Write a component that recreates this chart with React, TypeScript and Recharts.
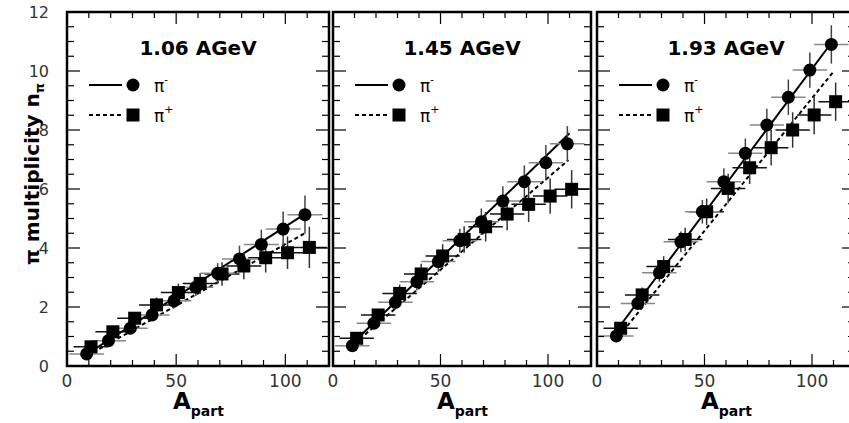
import { ComposedChart, Scatter, Line, XAxis, YAxis, ErrorBar, Legend, ReferenceArea } from "recharts";

// participant numbers (pi- circles, pi+ squares sit a little to the right)
const xMinus = [9, 19, 29, 39, 49, 59, 69, 79, 89, 99, 109];
const xPlus = [11, 21, 31, 41, 51, 61, 71, 81, 91, 101, 111];
const xErr = [8, 8, 8, 8, 8, 8, 8, 8, 8, 8, 8];

const minus106 = [0.41, 0.86, 1.28, 1.73, 2.21, 2.67, 3.14, 3.63, 4.12, 4.64, 5.13];
const plus106 = [0.65, 1.16, 1.62, 2.07, 2.49, 2.8, 3.12, 3.39, 3.67, 3.84, 4.02];
const minusErr106 = [0.05, 0.1, 0.15, 0.2, 0.25, 0.3, 0.35, 0.45, 0.5, 0.6, 0.65];
const plusErr106 = [0.08, 0.15, 0.2, 0.25, 0.3, 0.35, 0.4, 0.45, 0.5, 0.55, 0.7];

const minus145 = [0.69, 1.45, 2.16, 2.86, 3.54, 4.25, 4.89, 5.59, 6.25, 6.89, 7.53];
const plus145 = [0.94, 1.73, 2.46, 3.12, 3.73, 4.29, 4.72, 5.15, 5.48, 5.76, 5.99];
const minusErr145 = [0.08, 0.15, 0.25, 0.3, 0.35, 0.4, 0.45, 0.5, 0.55, 0.6, 0.6];
const plusErr145 = [0.1, 0.2, 0.3, 0.35, 0.4, 0.45, 0.5, 0.55, 0.6, 0.6, 0.65];

const minus193 = [1.02, 2.12, 3.16, 4.21, 5.23, 6.25, 7.21, 8.17, 9.11, 10.03, 10.9];
const plus193 = [1.28, 2.41, 3.37, 4.29, 5.23, 6.02, 6.72, 7.4, 8.0, 8.51, 8.96];
const minusErr193 = [0.1, 0.2, 0.3, 0.35, 0.4, 0.45, 0.5, 0.55, 0.6, 0.6, 0.65];
const plusErr193 = [0.15, 0.25, 0.35, 0.4, 0.45, 0.5, 0.55, 0.6, 0.6, 0.65, 0.65];

// linear fits: [x start, x end] and [y start, y end]
const fitMinus106 = { x: [8, 108.5], y: [0.35, 5.13] };
const fitPlus106 = { x: [12, 109.6], y: [0.46, 4.53] };
const fitMinus145 = { x: [7, 110], y: [0.62, 7.89] };
const fitPlus145 = { x: [10, 109.5], y: [0.76, 6.98] };
const fitMinus193 = { x: [7, 109.5], y: [1.0, 11.0] };
const fitPlus193 = { x: [12, 109.7], y: [1.17, 9.95] };

const xTicks = [0, 10, 20, 30, 40, 50, 60, 70, 80, 90, 100, 110, 120];
const yTicks = [0, 0.5, 1, 1.5, 2, 2.5, 3, 3.5, 4, 4.5, 5, 5.5, 6, 6.5, 7, 7.5, 8, 8.5, 9, 9.5, 10, 10.5, 11, 11.5, 12];
const xLabelTicks = [0, 50, 100];
const yLabelTicks = [0, 2, 4, 6, 8, 10, 12];

const FONT = "'DejaVu Sans', 'Liberation Sans', Arial, sans-serif";
const PLOT_H = 354;
const TOP = 12;
const AXIS_W = 67;

const toPoints = (xs: number[], ys: number[], ex: number[], ey: number[]) =>
  xs.map((x, i) => ({ x, y: ys[i], ex: ex[i], ey: ey[i] }));
const toLine = (f: { x: number[]; y: number[] }) => f.x.map((x, i) => ({ x, y: f.y[i] }));

const panels = [
  {
    title: "1.06 AGeV", left: 67, width: 262, labels: true,
    minus: toPoints(xMinus, minus106, xErr, minusErr106), plus: toPoints(xPlus, plus106, xErr, plusErr106),
    fitM: toLine(fitMinus106), fitP: toLine(fitPlus106),
  },
  {
    title: "1.45 AGeV", left: 333, width: 258, labels: false,
    minus: toPoints(xMinus, minus145, xErr, minusErr145), plus: toPoints(xPlus, plus145, xErr, plusErr145),
    fitM: toLine(fitMinus145), fitP: toLine(fitPlus145),
  },
  {
    title: "1.93 AGeV", left: 597, width: 258, labels: false,
    minus: toPoints(xMinus, minus193, xErr, minusErr193), plus: toPoints(xPlus, plus193, xErr, plusErr193),
    fitM: toLine(fitMinus193), fitP: toLine(fitPlus193),
  },
];

function XTick(props: any) {
  const { x, y, payload } = props;
  const v = payload.value;
  const major = xLabelTicks.includes(v);
  const len = major ? 12 : 6;
  return (
    <g>
      <line x1={x} x2={x} y1={y} y2={y - len} stroke="#000" strokeWidth={1.2} />
      <line x1={x} x2={x} y1={y - PLOT_H} y2={y - PLOT_H + len} stroke="#000" strokeWidth={1.2} />
      {major && (
        <text x={x} y={y + 21} textAnchor="middle" fontFamily={FONT} fontSize={17} fill="#333">
          {v}
        </text>
      )}
    </g>
  );
}

function makeYTick(plotW: number, labels: boolean) {
  return (props: any) => {
    const { x, y, payload } = props;
    const v = payload.value;
    const major = yLabelTicks.includes(v);
    const len = major ? 13 : 7;
    return (
      <g>
        <line x1={x} x2={x + len} y1={y} y2={y} stroke="#000" strokeWidth={1.2} />
        <line x1={x + plotW} x2={x + plotW - len} y1={y} y2={y} stroke="#000" strokeWidth={1.2} />
        {labels && major && (
          <text x={x - 18} y={y + 6} textAnchor="end" fontFamily={FONT} fontSize={16} fill="#333">
            {v}
          </text>
        )}
      </g>
    );
  };
}

function XTitle(props: any) {
  const { viewBox } = props;
  const cx = viewBox.x + viewBox.width / 2;
  return (
    <text x={cx - 25} y={409} fontFamily={FONT} fontWeight="bold" fill="#000">
      <tspan fontSize={23}>A</tspan>
      <tspan fontSize={14} dy={7}>part</tspan>
    </text>
  );
}

function YTitle() {
  return (
    <text transform="translate(39, 174) rotate(-90)" textAnchor="middle" fontFamily={FONT} fontWeight="bold" fontSize={20} fill="#000">
      π multiplicity n
      <tspan fontSize={13} dy={5}>π</tspan>
    </text>
  );
}

function PanelKey({ title, width }: { title: string; width: number }) {
  return (
    <svg width={width} height={120} style={{ display: "block", overflow: "visible" }}>
      <text x={width / 2} y={43} textAnchor="middle" fontFamily={FONT} fontWeight="bold" fontSize={20} fill="#000">
        {title}
      </text>
      <line x1={22} x2={55} y1={73} y2={73} stroke="#000" strokeWidth={2} />
      <circle cx={66} cy={73} r={6.5} fill="#000" />
      <text x={87} y={80} fontFamily={FONT} fontSize={17} fill="#000">
        π<tspan fontSize={10} dy={-9}>-</tspan>
      </text>
      <line x1={22} x2={55} y1={103} y2={103} stroke="#000" strokeWidth={2} strokeDasharray="4 3" />
      <rect x={59.5} y={96.5} width={13} height={13} fill="#000" />
      <text x={87} y={110} fontFamily={FONT} fontSize={17} fill="#000">
        π<tspan fontSize={11} dy={-9}>+</tspan>
      </text>
    </svg>
  );
}

const circleShape = (p: any) => <circle cx={p.cx} cy={p.cy} r={6.5} fill="#000" />;
const squareShape = (p: any) => <rect x={p.cx - 6.5} y={p.cy - 6.5} width={13} height={13} fill="#000" />;

export default function App() {
  return (
    <div style={{ position: "absolute", left: 0, top: 0, width: 849, height: 423, overflow: "hidden", background: "#fff" }}>
      {panels.map((p) => (
        <div key={p.title} style={{ position: "absolute", left: p.left - AXIS_W, top: 0 }}>
          <ComposedChart
            width={AXIS_W + p.width + 10}
            height={423}
            margin={{ top: TOP, right: 10, bottom: 0, left: 0 }}
          >
            <XAxis
              dataKey="x"
              type="number"
              domain={[0, 120]}
              ticks={xTicks}
              interval={0}
              tickSize={0}
              tickMargin={0}
              axisLine={false}
              tickLine={false}
              height={423 - TOP - PLOT_H}
              tick={<XTick />}
              label={<XTitle />}
              allowDataOverflow
            />
            <YAxis
              dataKey="y"
              type="number"
              domain={[0, 12]}
              ticks={yTicks}
              interval={0}
              tickSize={0}
              tickMargin={0}
              axisLine={false}
              tickLine={false}
              width={AXIS_W}
              tick={makeYTick(p.width, p.labels)}
              label={p.labels ? <YTitle /> : undefined}
              allowDataOverflow
            />
            <ReferenceArea x1={0} x2={120} y1={0} y2={12} fill="none" stroke="#000" strokeWidth={2.5} ifOverflow="visible" />
            <Legend
              layout="horizontal"
              verticalAlign="middle"
              align="center"
              wrapperStyle={{ position: "absolute", left: AXIS_W, top: TOP, width: p.width, height: 120 }}
              content={() => <PanelKey title={p.title} width={p.width} />}
            />
            <Line data={p.fitP} dataKey="y" type="linear" stroke="#000" strokeWidth={2} strokeDasharray="4 3" dot={false} isAnimationActive={false} legendType="none" />
            <Line data={p.fitM} dataKey="y" type="linear" stroke="#000" strokeWidth={2} dot={false} isAnimationActive={false} legendType="none" />
            <Scatter data={p.plus} shape={squareShape} isAnimationActive={false} legendType="none">
              <ErrorBar dataKey="ex" direction="x" width={0} stroke="#111" strokeWidth={1.5} />
              <ErrorBar dataKey="ey" direction="y" width={0} stroke="#333" strokeWidth={1.5} />
            </Scatter>
            <Scatter data={p.minus} shape={circleShape} isAnimationActive={false} legendType="none">
              <ErrorBar dataKey="ex" direction="x" width={0} stroke="#888" strokeWidth={1.5} />
              <ErrorBar dataKey="ey" direction="y" width={0} stroke="#444" strokeWidth={1.5} />
            </Scatter>
          </ComposedChart>
        </div>
      ))}
    </div>
  );
}
